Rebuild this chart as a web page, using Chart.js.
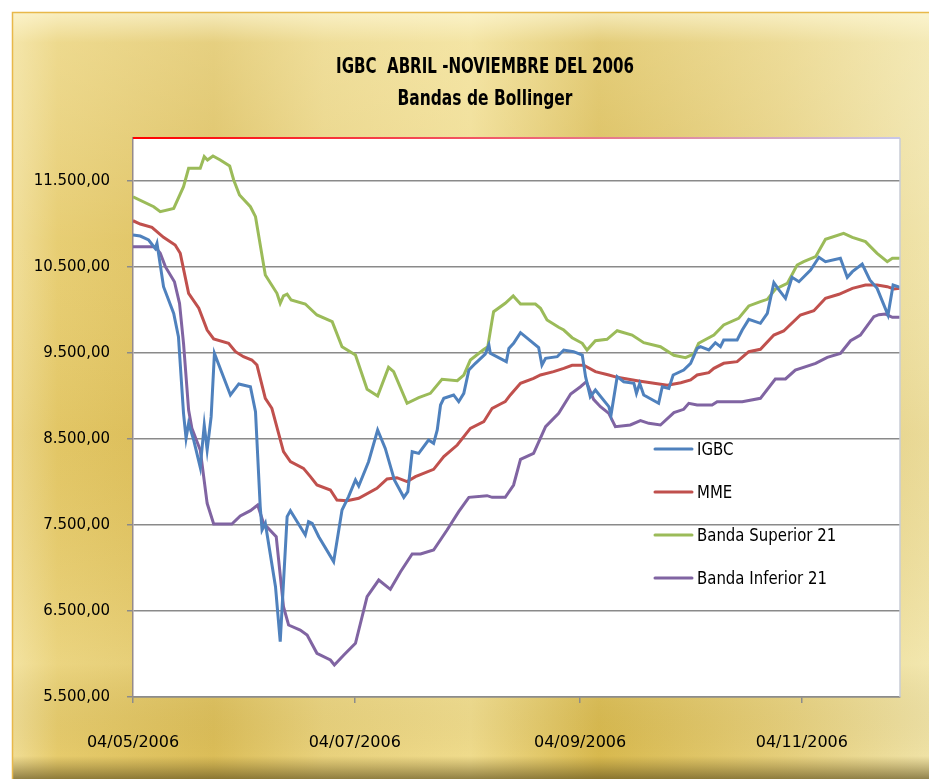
<!DOCTYPE html>
<html>
<head>
<meta charset="utf-8">
<title>IGBC Bandas de Bollinger</title>
<script src="https://cdn.jsdelivr.net/npm/chart.js@4.4.0/dist/chart.umd.min.js"></script>
<style>
  html, body { margin: 0; padding: 0; background: #ffffff; }
  #chart { display: block; }
</style>
</head>
<body>
<canvas id="chart" width="929" height="779"></canvas>
<script>
// x values are days counted from 04/05/2006
const igbcDays = [0, 2.0, 4.3, 6.1, 6.6, 8.4, 11.2, 12.5, 13.9, 14.6, 15.3, 16.7, 18.5, 19.6, 20.4, 21.5, 22.4,
    26.8, 29.1, 32.3, 33.7, 35.0, 35.5, 36.4, 39.2, 40.5, 42.4, 43.3, 47.4, 48.3, 49.3, 51.1, 55.2, 57.5, 59.3,
    61.2, 62.1, 64.8, 67.3, 69.4, 71.9, 74.5, 75.6, 76.8, 78.6, 81.3, 82.7, 83.7, 84.6, 85.5, 88.2, 89.6, 91.0,
    92.4, 94.2, 96.9, 97.9, 98.3, 102.7, 103.4, 104.7, 106.6, 111.6, 112.5, 113.5, 116.7, 118.5, 121.2, 123.6,
    124.5, 125.8, 127.2, 130.9, 131.5, 133.2, 135.0, 137.8, 138.5, 139.4, 140.5, 144.6, 145.6, 147.4, 148.6,
    151.5, 153.4, 155.2, 156.1, 158.4, 160.2, 161.6, 162.5, 166.2, 167.6, 169.4, 172.6, 174.5, 176.3, 177.7,
    179.5, 181.3, 183.2, 186.4, 188.7, 190.5, 194.6, 196.5, 197.9, 200.6, 202.7, 204.7, 207.7, 209.1, 211];
const igbcValues = [10872, 10860, 10814, 10717, 10775, 10271, 9961, 9690, 8798, 8508, 8682, 8488, 8171, 8663, 8372, 8760, 9496,
    9012, 9140, 9108, 8818, 7713, 7442, 7520, 6783, 6143, 7598, 7667, 7384, 7539, 7520, 7364, 7074, 7674, 7830,
    8023, 7953, 8236, 8605, 8391, 8023, 7822, 7888, 8352, 8333, 8488, 8450, 8605, 8895, 8973, 9012, 8934, 9031,
    9302, 9380, 9488, 9593, 9496, 9399, 9554, 9613, 9736, 9562, 9360, 9438, 9457, 9535, 9515, 9477,
    9225, 8992, 9070, 8876, 8779, 9225, 9166, 9147, 9031, 9147, 9012, 8915, 9108, 9089, 9244,
    9302, 9380, 9554, 9573, 9535, 9620, 9573, 9651, 9651, 9767, 9891, 9845, 9961, 10318, 10233,
    10136, 10380, 10329, 10465, 10613, 10562, 10601, 10380, 10446, 10535, 10349, 10252, 9942, 10291, 10264];

const mmeDays = [0, 2.0, 5.2, 8.4, 11.6, 13.0, 15.3, 18.1, 20.4, 22.2, 26.3, 28.2, 30.4, 32.7, 34.1, 36.4, 38.2,
    41.4, 43.3, 46.9, 48.8, 50.6, 54.3, 56.1, 58.9, 62.1, 67.1, 69.9, 72.6, 75.4, 77.7, 82.7, 85.5, 89.2, 92.8,
    96.5, 98.8, 101.1, 102.4, 103.8, 106.6, 110.2, 112.1, 115.7, 118.5, 120.8, 124.0, 127.2, 130.9, 133.2, 138.7,
    142.4, 147.0, 150.7, 153.4, 155.2, 158.4, 159.8, 162.5, 166.2, 169.4, 172.6, 176.3, 179.0, 183.6, 187.3,
    190.5, 194.2, 197.9, 201.5, 204.7, 207.5, 209.3, 211];
const mmeValues = [11038, 11000, 10962, 10845, 10756, 10659, 10194, 10020, 9767, 9663, 9613, 9515, 9457, 9418, 9360, 8973, 8857,
    8352, 8236, 8159, 8062, 7965, 7907, 7791, 7783, 7810, 7926, 8035, 8050, 8004, 8062, 8147, 8295, 8430, 8624,
    8701, 8857, 8907, 8934, 9012, 9147, 9205, 9244, 9283, 9322, 9357, 9357, 9283, 9244, 9217, 9178,
    9155, 9124, 9155, 9186, 9244, 9271, 9322, 9380, 9399, 9515, 9543, 9709, 9756, 9942, 9992,
    10136, 10183, 10252, 10291, 10291, 10271, 10244, 10252];

const upperDays = [0, 5.7, 7.5, 11.2, 13.9, 15.3, 18.5, 19.6, 20.5, 22.0, 24.0, 26.6, 27.7, 29.3, 32.3, 33.7, 36.4,
    39.6, 40.5, 41.4, 42.4, 43.5, 47.4, 50.6, 54.8, 57.5, 61.2, 62.6, 64.4, 67.3, 70.3, 71.7, 75.4, 78.6, 81.8,
    85.0, 89.2, 91.0, 92.8, 96.3, 97.6, 98.8, 99.2, 102.4, 104.6, 106.6, 110.7, 112.1, 113.9, 117.1, 118.5, 120.8,
    123.6, 124.9, 127.2, 130.4, 133.2, 137.3, 140.5, 145.1, 148.8, 152.0, 154.3, 155.6, 159.8, 162.5, 166.6,
    169.4, 172.6, 174.5, 176.7, 180.0, 182.7, 184.5, 187.8, 190.5, 195.5, 197.9, 201.5, 204.7, 207.5, 208.9, 211];
const upperValues = [11317, 11201, 11143, 11182, 11434, 11648, 11648, 11783, 11744, 11791, 11744, 11674, 11512, 11337, 11201, 11085, 10407,
    10194, 10078, 10163, 10183, 10116, 10070, 9942, 9864, 9573, 9477, 9302, 9078, 9000, 9333, 9283, 8915, 8980, 9031,
    9194, 9178, 9244, 9418, 9535, 9573, 9884, 9980, 10078, 10163, 10070, 10070, 10020, 9884, 9799, 9767, 9678,
    9613, 9535, 9643, 9659, 9759, 9709, 9620, 9573, 9473, 9445, 9490, 9613, 9709, 9826, 9903,
    10047, 10097, 10124, 10241, 10310, 10523, 10562, 10620, 10822, 10892, 10845, 10795, 10659, 10562, 10601, 10601];

const lowerDays = [0, 6.1, 7.5, 8.9, 11.4, 12.8, 13.9, 15.3, 16.2, 18.5, 20.4, 22.2, 27.2, 29.5, 32.3, 34.3, 35.9,
    39.4, 41.4, 42.8, 46.0, 47.9, 50.6, 54.3, 55.4, 58.0, 61.2, 64.4, 67.6, 70.8, 73.6, 76.8, 79.1, 82.7, 86.4,
    89.6, 92.4, 97.4, 98.8, 102.4, 104.7, 106.6, 110.2, 113.5, 117.1, 120.4, 123.1, 124.7, 126.7, 128.6, 130.9,
    132.7, 136.8, 139.6, 141.9, 145.1, 148.8, 151.5, 152.9, 155.2, 159.3, 160.7, 167.6, 172.6, 176.7, 179.5,
    182.2, 187.8, 191.0, 194.6, 197.4, 200.1, 203.8, 205.2, 207.0, 208.9, 211];
const lowerValues = [10736, 10736, 10659, 10504, 10329, 10078, 9613, 8837, 8624, 8372, 7752, 7512, 7512, 7605, 7667, 7733, 7520,
    7364, 6550, 6337, 6279, 6221, 6008, 5930, 5872, 5988, 6124, 6667, 6860, 6752, 6957, 7163, 7163, 7209, 7442,
    7655, 7822, 7841, 7822, 7822, 7965, 8263, 8333, 8643, 8798, 9023, 9108, 9166, 8961, 8876, 8798,
    8643, 8663, 8713, 8682, 8663, 8806, 8845, 8915, 8895, 8895, 8934, 8934, 8973, 9198, 9198,
    9302, 9380, 9450, 9496, 9643, 9709, 9922, 9946, 9953, 9915, 9915];

const seriesNames = ['IGBC', 'MME', 'Banda Superior 21', 'Banda Inferior 21'];
const seriesColors = ['#4f81bd', '#c0504d', '#9bbb59', '#8064a2'];
const yTicks = [5500, 6500, 7500, 8500, 9500, 10500, 11500];
const xTickDays = [0, 61, 123, 184];
const xTickLabels = ['04/05/2006', '04/07/2006', '04/09/2006', '04/11/2006'];
const titleLines = ['IGBC  ABRIL -NOVIEMBRE DEL 2006', 'Bandas de Bollinger'];

const FONT = '"DejaVu Sans", "Noto Sans", sans-serif';

function toPoints(days, values) {
    return days.map((d, i) => ({ x: d, y: values[i] }));
}

// 11500 -> "11.500,00"
function formatNumber(value) {
    const whole = Math.round(value).toString().replace(/\B(?=(\d{3})+(?!\d))/g, '.');
    return whole + ',00';
}

// draw text squeezed horizontally (the original uses a narrow font)
function narrowText(ctx, text, x, y, squeeze) {
    ctx.save();
    ctx.translate(x, y);
    ctx.scale(squeeze, 1);
    ctx.fillText(text, 0, 0);
    ctx.restore();
}

const goldBackground = {
    id: 'goldBackground',
    beforeDraw(chart) {
        const ctx = chart.ctx;
        const w = chart.width, h = chart.height;
        const area = chart.chartArea;
        ctx.save();
        ctx.fillStyle = '#ffffff';
        ctx.fillRect(0, 0, w, h);

        const gold = ctx.createLinearGradient(12, 0, w, 0);
        gold.addColorStop(0, '#f0dd95');
        gold.addColorStop(0.05, '#e6cb6c');
        gold.addColorStop(0.22, '#dbbd58');
        gold.addColorStop(0.34, '#e8d17c');
        gold.addColorStop(0.5, '#efdb8c');
        gold.addColorStop(0.64, '#d8b94e');
        gold.addColorStop(0.84, '#e5ce7a');
        gold.addColorStop(1, '#efe2a6');
        ctx.fillStyle = gold;
        ctx.fillRect(12, 12, w - 12, h - 12);

        const shade = ctx.createLinearGradient(0, 12, 0, h);
        shade.addColorStop(0, 'rgba(255,250,220,0.75)');
        shade.addColorStop(0.04, 'rgba(255,250,220,0.3)');
        shade.addColorStop(0.3, 'rgba(255,255,255,0.05)');
        shade.addColorStop(0.55, 'rgba(190,150,40,0.1)');
        shade.addColorStop(0.85, 'rgba(255,250,210,0.2)');
        shade.addColorStop(0.97, 'rgba(120,100,40,0)');
        shade.addColorStop(1, 'rgba(95,80,30,0.65)');
        ctx.fillStyle = shade;
        ctx.fillRect(12, 12, w - 12, h - 12);

        ctx.strokeStyle = '#e8b84a';
        ctx.lineWidth = 1.5;
        ctx.beginPath();
        ctx.moveTo(12.5, h);
        ctx.lineTo(12.5, 12.5);
        ctx.lineTo(w, 12.5);
        ctx.stroke();

        ctx.fillStyle = '#ffffff';
        ctx.fillRect(area.left, area.top, area.right - area.left, area.bottom - area.top);
        ctx.restore();
    },
    afterDraw(chart) {
        const ctx = chart.ctx;
        const area = chart.chartArea;
        ctx.save();
        const edge = ctx.createLinearGradient(area.left, 0, area.right, 0);
        edge.addColorStop(0, '#ff0000');
        edge.addColorStop(0.5, '#f06070');
        edge.addColorStop(1, '#c8c8e8');
        ctx.strokeStyle = edge;
        ctx.lineWidth = 2;
        ctx.beginPath();
        ctx.moveTo(area.left, area.top);
        ctx.lineTo(area.right, area.top);
        ctx.stroke();
        ctx.strokeStyle = '#c9ccd6';
        ctx.lineWidth = 1.5;
        ctx.beginPath();
        ctx.moveTo(area.right, area.top);
        ctx.lineTo(area.right, area.bottom);
        ctx.stroke();
        ctx.restore();
    }
};

const chartTitle = {
    id: 'chartTitle',
    afterDraw(chart) {
        const ctx = chart.ctx;
        ctx.save();
        ctx.fillStyle = '#000000';
        ctx.textAlign = 'center';
        ctx.textBaseline = 'alphabetic';
        ctx.font = 'bold 21.5px ' + FONT;
        narrowText(ctx, titleLines[0], 485, 72.5, 0.70);
        narrowText(ctx, titleLines[1], 485, 105, 0.72);
        ctx.restore();
    }
};

const insideLegend = {
    id: 'insideLegend',
    afterDraw(chart) {
        const ctx = chart.ctx;
        ctx.save();
        ctx.font = '18px ' + FONT;
        ctx.textBaseline = 'middle';
        ctx.textAlign = 'left';
        chart.data.datasets.forEach((ds, i) => {
            const y = 449 + i * 43;
            ctx.strokeStyle = ds.borderColor;
            ctx.lineWidth = 3;
            ctx.lineCap = 'round';
            ctx.beginPath();
            ctx.moveTo(655, y);
            ctx.lineTo(692, y);
            ctx.stroke();
            ctx.fillStyle = '#000000';
            narrowText(ctx, ds.label, 697, y + 1, 0.83);
        });
        ctx.restore();
    }
};

const seriesDays = [igbcDays, mmeDays, upperDays, lowerDays];
const seriesValues = [igbcValues, mmeValues, upperValues, lowerValues];

new Chart(document.getElementById('chart'), {
    type: 'line',
    data: {
        datasets: seriesNames.map((name, i) => ({
            label: name,
            data: toPoints(seriesDays[i], seriesValues[i]),
            borderColor: seriesColors[i],
            backgroundColor: seriesColors[i],
            borderWidth: 3,
            pointRadius: 0,
            tension: 0,
            fill: false
        }))
    },
    options: {
        responsive: false,
        devicePixelRatio: 1,
        animation: false,
        layout: { padding: { top: 138, right: 29, bottom: 0, left: 0 } },
        plugins: {
            legend: { display: false },
            title: { display: false },
            tooltip: { enabled: false }
        },
        scales: {
            x: {
                type: 'linear',
                min: 0,
                max: 211,
                afterBuildTicks: (scale) => { scale.ticks = xTickDays.map(v => ({ value: v })); },
                afterFit: (scale) => { scale.height = 82; },
                grid: { drawOnChartArea: false, drawTicks: true, tickLength: 6, color: '#8c8c8c', lineWidth: 1.5 },
                border: { color: '#8c8c8c', width: 1.5 },
                ticks: {
                    autoSkip: false,
                    maxRotation: 0,
                    padding: 30,
                    color: '#000000',
                    font: { family: FONT, size: 16 },
                    callback: (value) => {
                        const i = xTickDays.indexOf(value);
                        return i >= 0 ? xTickLabels[i] : '';
                    }
                }
            },
            y: {
                type: 'linear',
                min: 5500,
                max: 12000,
                afterBuildTicks: (scale) => { scale.ticks = yTicks.map(v => ({ value: v })); },
                afterFit: (scale) => { scale.width = 133; },
                grid: { color: '#8a8a8a', lineWidth: 1.5, tickLength: 6 },
                border: { color: '#958a8a', width: 1.5 },
                ticks: {
                    padding: 17,
                    color: '#000000',
                    font: { family: FONT, size: 15 },
                    callback: (value) => formatNumber(value)
                }
            }
        }
    },
    plugins: [goldBackground, chartTitle, insideLegend]
});
</script>
</body>
</html>
